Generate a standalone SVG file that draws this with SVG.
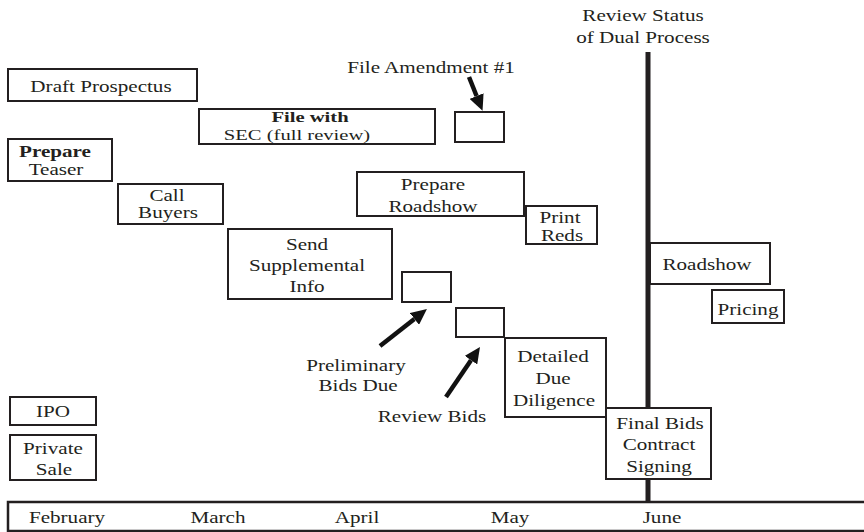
<svg xmlns="http://www.w3.org/2000/svg" width="864" height="532" viewBox="0 0 864 532">
<style>
.b{fill:#fff;stroke:#231f20;stroke-width:2}
.t{font-family:"Liberation Serif","Times New Roman",serif;font-size:16.5px;fill:#231f20;text-anchor:middle}
.s{font-size:15.5px}
.bold{font-weight:bold}
.ar{stroke:#111;stroke-width:4.5;fill:none}
</style>
<defs>
<marker id="ah" markerUnits="userSpaceOnUse" markerWidth="16" markerHeight="15" refX="0" refY="7.5" orient="auto">
<path d="M0,0 L16,7.5 L0,15 z" fill="#111"/>
</marker>
</defs>
<rect width="864" height="532" fill="#fff"/>

<g id="review-status">
<text class="t" transform="translate(643 21) scale(1.28 1)">Review Status</text>
<text class="t" transform="translate(643 43) scale(1.28 1)">of Dual Process</text>
<line x1="648" y1="52" x2="648" y2="502" stroke="#231f20" stroke-width="5"/>
</g>

<g id="draft-prospectus">
<rect class="b" x="8" y="69" width="189" height="32"/>
<text class="t" transform="translate(101 92) scale(1.28 1)">Draft Prospectus</text>
</g>

<g id="file-with-sec">
<rect class="b" x="199" y="109" width="236" height="35"/>
<text class="t s bold" transform="translate(310 122) scale(1.33 1)">File with</text>
<text class="t s" transform="translate(297 140) scale(1.33 1)">SEC (full review)</text>
</g>

<g id="file-amendment">
<text class="t" transform="translate(431 73) scale(1.28 1)">File Amendment #1</text>
<rect class="b" x="455" y="112" width="49" height="30"/>
</g>

<g id="prepare-teaser">
<rect class="b" x="8" y="139" width="104" height="42"/>
<text class="t bold" transform="translate(55 157) scale(1.28 1)">Prepare</text>
<text class="t" transform="translate(56 175) scale(1.28 1)">Teaser</text>
</g>

<g id="call-buyers">
<rect class="b" x="118" y="184" width="105" height="40"/>
<text class="t" transform="translate(167 201) scale(1.28 1)">Call</text>
<text class="t" transform="translate(168 218) scale(1.28 1)">Buyers</text>
</g>

<g id="prepare-roadshow">
<rect class="b" x="357" y="172" width="167" height="44"/>
<text class="t" transform="translate(433 190) scale(1.28 1)">Prepare</text>
<text class="t" transform="translate(433 212) scale(1.28 1)">Roadshow</text>
</g>

<g id="print-reds">
<rect class="b" x="526" y="206" width="71" height="38"/>
<text class="t" transform="translate(560 223) scale(1.28 1)">Print</text>
<text class="t" transform="translate(562 241) scale(1.28 1)">Reds</text>
</g>

<g id="send-supplemental">
<rect class="b" x="228" y="229" width="164" height="70"/>
<text class="t" transform="translate(307 250) scale(1.28 1)">Send</text>
<text class="t" transform="translate(307 271) scale(1.28 1)">Supplemental</text>
<text class="t" transform="translate(307 292) scale(1.28 1)">Info</text>
</g>

<g id="preliminary-bids">
<rect class="b" x="402" y="272" width="49" height="30"/>
<text class="t" transform="translate(356 371) scale(1.28 1)">Preliminary</text>
<text class="t" transform="translate(358 391) scale(1.28 1)">Bids Due</text>
</g>

<g id="review-bids">
<rect class="b" x="456" y="308" width="48" height="29"/>
<text class="t" transform="translate(432 422) scale(1.28 1)">Review Bids</text>
</g>

<g id="detailed-due-diligence">
<rect class="b" x="505" y="338" width="101" height="79"/>
<text class="t" transform="translate(553 362) scale(1.28 1)">Detailed</text>
<text class="t" transform="translate(553 384) scale(1.28 1)">Due</text>
<text class="t" transform="translate(554 406) scale(1.28 1)">Diligence</text>
</g>

<g id="roadshow">
<rect class="b" x="650" y="243" width="120" height="41"/>
<text class="t" transform="translate(707 270) scale(1.28 1)">Roadshow</text>
</g>

<g id="pricing">
<rect class="b" x="712" y="290" width="72" height="33"/>
<text class="t" transform="translate(748 315) scale(1.28 1)">Pricing</text>
</g>

<g id="final-bids">
<rect class="b" x="606" y="408" width="105" height="71"/>
<text class="t" transform="translate(660 429) scale(1.28 1)">Final Bids</text>
<text class="t" transform="translate(659 450) scale(1.28 1)">Contract</text>
<text class="t" transform="translate(659 472) scale(1.28 1)">Signing</text>
</g>

<g id="ipo">
<rect class="b" x="10" y="397" width="86" height="28"/>
<text class="t" transform="translate(53 417) scale(1.28 1)">IPO</text>
</g>

<g id="private-sale">
<rect class="b" x="10" y="435" width="86" height="45"/>
<text class="t" transform="translate(53 454) scale(1.28 1)">Private</text>
<text class="t" transform="translate(54 475) scale(1.28 1)">Sale</text>
</g>

<g id="timeline">
<rect x="8" y="502" width="870" height="29" fill="#fff" stroke="#231f20" stroke-width="2.5"/>
<text class="t" transform="translate(67 523) scale(1.28 1)">February</text>
<text class="t" transform="translate(218 523) scale(1.28 1)">March</text>
<text class="t" transform="translate(357 523) scale(1.28 1)">April</text>
<text class="t" transform="translate(510 523) scale(1.28 1)">May</text>
<text class="t" transform="translate(662 523) scale(1.28 1)">June</text>
</g>

<g id="connectors">
<line class="ar" x1="469" y1="77" x2="476.6" y2="96" marker-end="url(#ah)"/>
<line class="ar" x1="380" y1="346" x2="414.4" y2="318.9" marker-end="url(#ah)"/>
<line class="ar" x1="446" y1="397" x2="471" y2="360.2" marker-end="url(#ah)"/>
</g>
</svg>
